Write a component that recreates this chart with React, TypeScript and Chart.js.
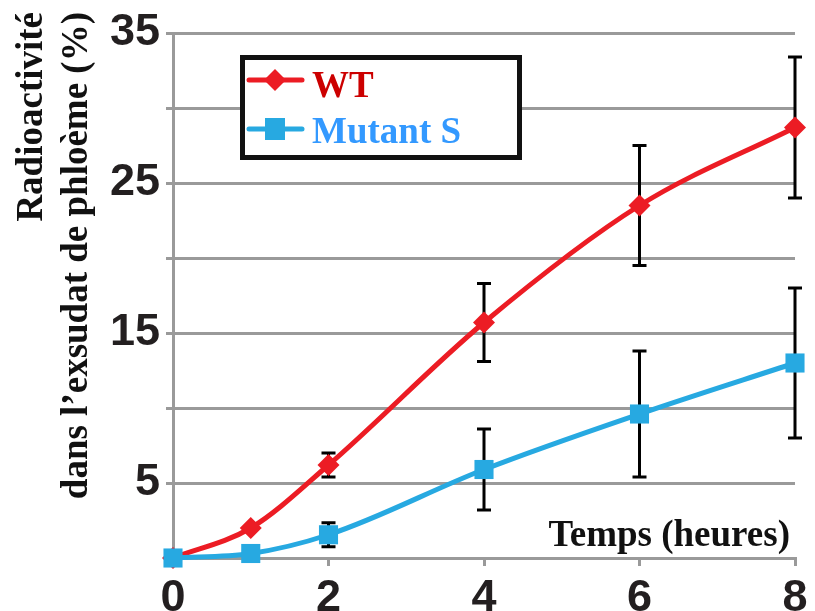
import React, { useEffect, useRef } from 'react';
import { Chart, registerables } from 'chart.js';

Chart.register(...registerables);

const timeHours = [0, 1, 2, 4, 6, 8];
const wtValues = [0, 2.0, 6.2, 15.7, 23.5, 28.7];
const wtErrors = [0, 0, 0.8, 2.6, 4.0, 4.7];
const mutantValues = [0, 0.3, 1.55, 5.9, 9.6, 13.0];
const mutantErrors = [0, 0, 0.8, 2.7, 4.2, 5.0];
const xTickValues = [0, 2, 4, 6, 8];
const yLabeledTicks = [5, 15, 25, 35];
const seriesNames = ['WT', 'Mutant S'];
const yTitleLines = ['Radioactivité', 'dans l\u2019exsudat de phloème (%)'];
const xTitle = 'Temps (heures)';

const RED = '#ec1c24';
const BLUE = '#27a9e1';
const GRID = '#9a9a9a';

const errorBarPlugin = {
  id: 'errorBars',
  beforeDatasetsDraw(chart: any) {
    const ctx = chart.ctx;
    const yScale = chart.scales.y;
    ctx.save();
    ctx.strokeStyle = '#000';
    ctx.lineWidth = 3;
    chart.data.datasets.forEach((ds: any, i: number) => {
      const meta = chart.getDatasetMeta(i);
      const errs: number[] = ds.errors || [];
      meta.data.forEach((pt: any, j: number) => {
        const e = errs[j];
        if (!e) return;
        const v = ds.data[j].y;
        const top = yScale.getPixelForValue(v + e);
        const bot = yScale.getPixelForValue(v - e);
        const x = pt.x;
        ctx.beginPath();
        ctx.moveTo(x, top);
        ctx.lineTo(x, bot);
        ctx.moveTo(x - 7, top);
        ctx.lineTo(x + 7, top);
        ctx.moveTo(x - 7, bot);
        ctx.lineTo(x + 7, bot);
        ctx.stroke();
      });
    });
    ctx.restore();
  },
};

const textPlugin = {
  id: 'axisTexts',
  afterDraw(chart: any) {
    const ctx = chart.ctx;
    ctx.save();
    ctx.fillStyle = '#111';
    ctx.font = 'bold 37px "Liberation Serif", "Times New Roman", serif';
    // y title (rotated)
    ctx.save();
    ctx.translate(0, 12);
    ctx.rotate(-Math.PI / 2);
    ctx.textAlign = 'right';
    ctx.textBaseline = 'alphabetic';
    ctx.fillText(yTitleLines[0], 0, 42);
    ctx.fillText(yTitleLines[1], 0, 87);
    ctx.restore();
    // x title
    ctx.textAlign = 'right';
    ctx.textBaseline = 'alphabetic';
    ctx.fillText(xTitle, 790, 546);

    // legend box
    const bx = 242.5, by = 57.5, bw = 277, bh = 100;
    ctx.fillStyle = '#fff';
    ctx.fillRect(bx, by, bw, bh);
    ctx.strokeStyle = '#111';
    ctx.lineWidth = 5;
    ctx.strokeRect(bx, by, bw, bh);

    // WT entry
    ctx.lineCap = 'round';
    ctx.strokeStyle = RED;
    ctx.lineWidth = 5;
    ctx.beginPath();
    ctx.moveTo(249, 80);
    ctx.lineTo(302, 80);
    ctx.stroke();
    ctx.fillStyle = RED;
    ctx.beginPath();
    ctx.moveTo(275, 69);
    ctx.lineTo(286, 80);
    ctx.lineTo(275, 91);
    ctx.lineTo(264, 80);
    ctx.closePath();
    ctx.fill();
    ctx.fillStyle = '#cc0000';
    ctx.textAlign = 'left';
    ctx.fillText(seriesNames[0], 312, 97);

    // Mutant entry
    ctx.strokeStyle = BLUE;
    ctx.beginPath();
    ctx.moveTo(249, 129);
    ctx.lineTo(302, 129);
    ctx.stroke();
    ctx.fillStyle = BLUE;
    ctx.fillRect(265, 118, 20, 22);
    ctx.fillStyle = '#3399ff';
    ctx.fillText(seriesNames[1], 312, 143);
    ctx.restore();
  },
};

export default function App() {
  const canvasRef = useRef<HTMLCanvasElement | null>(null);

  useEffect(() => {
    document.body.style.margin = '0';
    const canvas = canvasRef.current;
    if (!canvas) return;
    const chart = new Chart(canvas, {
      type: 'line',
      data: {
        datasets: [
          {
            label: seriesNames[0],
            data: timeHours.map((t, i) => ({ x: t, y: wtValues[i] })),
            errors: wtErrors,
            borderColor: RED,
            backgroundColor: RED,
            borderWidth: 5,
            pointStyle: 'rectRot',
            pointRadius: 11,
            pointHoverRadius: 11,
            pointBorderWidth: 0,
            cubicInterpolationMode: 'monotone',
            clip: false,
            order: 1,
          } as any,
          {
            label: seriesNames[1],
            data: timeHours.map((t, i) => ({ x: t, y: mutantValues[i] })),
            errors: mutantErrors,
            borderColor: BLUE,
            backgroundColor: BLUE,
            borderWidth: 5,
            pointStyle: 'rect',
            pointRadius: 13.5,
            pointHoverRadius: 13.5,
            pointBorderWidth: 0,
            cubicInterpolationMode: 'monotone',
            clip: false,
            order: 0,
          } as any,
        ],
      },
      options: {
        responsive: false,
        animation: false,
        events: [],
        layout: { padding: { left: 0, top: 33, right: 20, bottom: 0 } },
        plugins: {
          legend: { display: false },
          tooltip: { enabled: false },
          title: { display: false },
        },
        scales: {
          x: {
            type: 'linear',
            min: 0,
            max: 8,
            afterFit(scale: any) {
              scale.height = 53;
            },
            afterBuildTicks(scale: any) {
              scale.ticks = xTickValues.map((v) => ({ value: v }));
            },
            grid: {
              drawOnChartArea: false,
              drawTicks: true,
              tickLength: 8,
              color: GRID,
              lineWidth: 3,
            },
            border: { display: true, color: GRID, width: 3 },
            ticks: {
              padding: 6,
              color: '#231f20',
              font: { family: '"Liberation Sans", Arial, sans-serif', weight: 'bold', size: 45 },
              callback: (v: any) => String(v),
            },
          },
          y: {
            type: 'linear',
            min: 0,
            max: 35,
            afterFit(scale: any) {
              scale.width = 173;
            },
            ticks: {
              stepSize: 5,
              padding: 6,
              color: '#231f20',
              font: { family: '"Liberation Sans", Arial, sans-serif', weight: 'bold', size: 45 },
              callback: (v: any) => (yLabeledTicks.includes(Number(v)) ? String(v) : ''),
            },
            grid: {
              color: GRID,
              lineWidth: 3,
              tickLength: 7,
            },
            border: { display: true, color: GRID, width: 3 },
          },
        },
      } as any,
      plugins: [errorBarPlugin, textPlugin],
    });
    return () => chart.destroy();
  }, []);

  return (
    <div style={{ position: 'fixed', left: 0, top: 0, width: 815, height: 611, background: '#fff' }}>
      <canvas ref={canvasRef} width={815} height={611} />
    </div>
  );
}
